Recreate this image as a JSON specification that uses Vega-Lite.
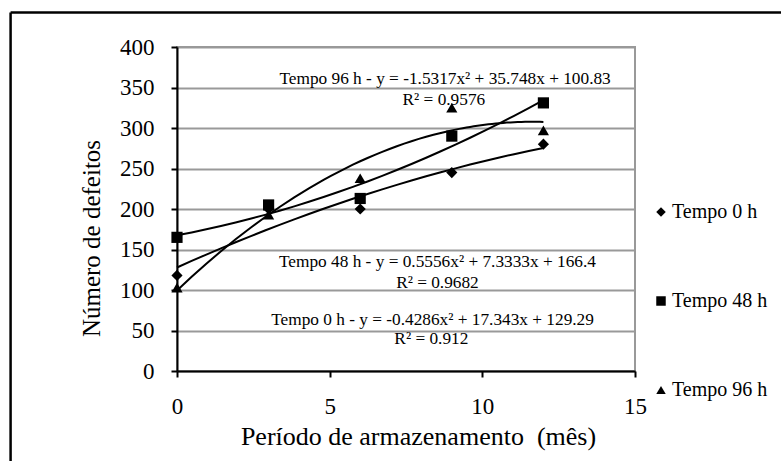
{
  "$schema": "https://vega.github.io/schema/vega-lite/v6.json",
  "autosize": {"type": "none"},
  "padding": {"left": 177, "top": 47, "right": 146, "bottom": 90},
  "width": 458,
  "height": 324,
  "background": "white",
  "config": {
    "font": "Liberation Serif",
    "view": {"stroke": "#999999", "strokeWidth": 2},
    "axis": {"labelFont": "Liberation Serif", "titleFont": "Liberation Serif", "labelColor": "black", "titleColor": "black", "titleFontWeight": "normal"},
    "legend": {"labelFont": "Liberation Serif"}
  },
  "datasets": {
    "pts": [
      {"serie": "Tempo 0 h", "x": 0, "y": 118},
      {"serie": "Tempo 0 h", "x": 3, "y": 200},
      {"serie": "Tempo 0 h", "x": 6, "y": 200},
      {"serie": "Tempo 0 h", "x": 9, "y": 245},
      {"serie": "Tempo 0 h", "x": 12, "y": 280},
      {"serie": "Tempo 48 h", "x": 0, "y": 165},
      {"serie": "Tempo 48 h", "x": 3, "y": 205},
      {"serie": "Tempo 48 h", "x": 6, "y": 213},
      {"serie": "Tempo 48 h", "x": 9, "y": 290},
      {"serie": "Tempo 48 h", "x": 12, "y": 331},
      {"serie": "Tempo 96 h", "x": 0, "y": 103},
      {"serie": "Tempo 96 h", "x": 3, "y": 193},
      {"serie": "Tempo 96 h", "x": 6, "y": 238},
      {"serie": "Tempo 96 h", "x": 9, "y": 325},
      {"serie": "Tempo 96 h", "x": 12, "y": 297}
    ],
    "notes": [
      {"label": "Tempo 96 h - y = -1.5317x² + 35.748x + 100.83", "x": 8.78, "y": 360},
      {"label": "R² = 0.9576", "x": 8.74, "y": 335},
      {"label": "Tempo 48 h - y = 0.5556x² + 7.3333x + 166.4", "x": 8.53, "y": 135},
      {"label": "R² = 0.9682", "x": 8.53, "y": 109},
      {"label": "Tempo 0 h - y = -0.4286x² + 17.343x + 129.29", "x": 8.37, "y": 63},
      {"label": "R² = 0.912", "x": 8.33, "y": 39}
    ]
  },
  "layer": [
    {
      "data": {"name": "pts"},
      "mark": {"type": "point", "opacity": 0},
      "encoding": {
        "x": {"field": "x", "type": "quantitative", "scale": {"domain": [0, 15], "nice": false},
          "axis": {"values": [0, 5, 10, 15], "grid": false, "domainColor": "black", "domainWidth": 2, "tickColor": "black", "tickWidth": 2, "tickSize": 6, "labelFontSize": 23, "labelPadding": 18, "labelFlush": false,
            "title": "Período de armazenamento \u00a0(mês)", "titleFontSize": 26, "titlePadding": 5, "titleX": 241, "titleAlign": "center"}},
        "y": {"field": "y", "type": "quantitative", "scale": {"domain": [0, 400], "nice": false},
          "axis": {"values": [0, 50, 100, 150, 200, 250, 300, 350, 400], "grid": true, "gridColor": "#999999", "gridWidth": 2, "domainColor": "black", "domainWidth": 2, "tickColor": "black", "tickWidth": 2, "tickSize": 6, "labelFontSize": 23, "labelPadding": 17,
            "title": "Número de defeitos", "titleFontSize": 25, "titleX": -86, "titleY": 191, "titleAngle": -90, "titleBaseline": "middle", "titleAlign": "center"}}
      }
    },
    {
      "data": {"name": "pts"},
      "transform": [{"regression": "y", "on": "x", "groupby": ["serie"], "method": "poly", "order": 2, "extent": [0, 12]}],
      "mark": {"type": "line", "color": "black", "strokeWidth": 2},
      "encoding": {
        "x": {"field": "x", "type": "quantitative"},
        "y": {"field": "y", "type": "quantitative"},
        "detail": {"field": "serie"}
      }
    },
    {
      "data": {"name": "pts"},
      "mark": {"type": "point", "filled": true, "color": "black", "opacity": 1, "size": 125},
      "encoding": {
        "x": {"field": "x", "type": "quantitative"},
        "y": {"field": "y", "type": "quantitative"},
        "shape": {"field": "serie", "type": "nominal",
          "scale": {"domain": ["Tempo 0 h", "Tempo 48 h", "Tempo 96 h"], "range": ["diamond", "square", "triangle-up"]},
          "legend": {"title": null, "orient": "none", "legendX": 474, "legendY": 155, "labelFontSize": 20, "rowPadding": 69, "symbolSize": 90, "symbolFillColor": "black", "symbolStrokeColor": "black", "labelOffset": 1}}
      }
    },
    {
      "data": {"name": "notes"},
      "mark": {"type": "text", "fontSize": 17.3, "align": "center", "baseline": "middle", "color": "black"},
      "encoding": {
        "x": {"field": "x", "type": "quantitative"},
        "y": {"field": "y", "type": "quantitative"},
        "text": {"field": "label"}
      }
    },
    {
      "data": {"values": [{}]},
      "mark": {"type": "rule", "color": "black", "strokeWidth": 2.5},
      "encoding": {"x": {"datum": -5.45}, "y": {"datum": 442.5}, "y2": {"datum": -111}}
    },
    {
      "data": {"values": [{}]},
      "mark": {"type": "rule", "color": "black", "strokeWidth": 2.5},
      "encoding": {"x": {"datum": -5.45}, "x2": {"datum": 19.8}, "y": {"datum": 442.5}}
    }
  ]
}
